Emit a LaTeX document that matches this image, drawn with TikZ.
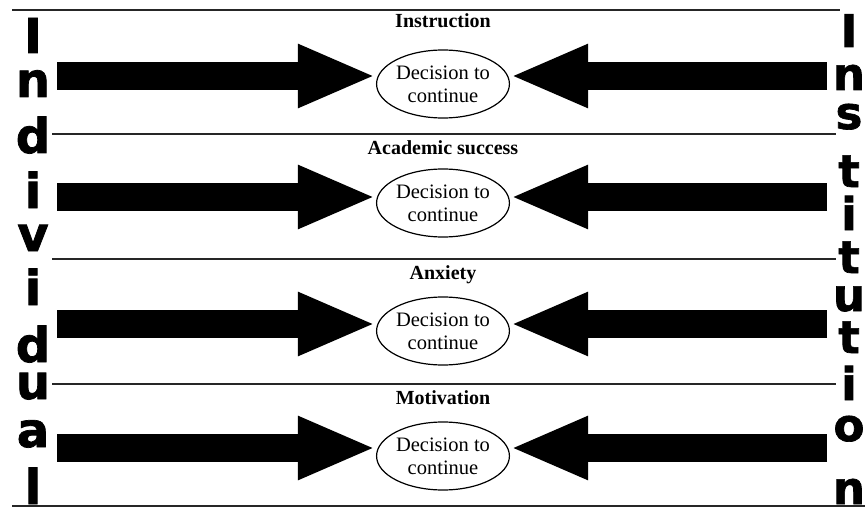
\documentclass[tikz,border=0pt]{standalone}
\usepackage{fontspec}
\setmainfont{Liberation Serif}
\newfontfamily\heavy[FakeBold=1.5]{DejaVu Sans}
\usetikzlibrary{shapes.geometric,arrows.meta,calc}
\begin{document}
\begin{tikzpicture}[x=1pt,y=-1pt,
  decision/.style={draw,ellipse,line width=1.2pt,minimum width=129pt,minimum height=68pt,inner sep=0pt,align=center,font=\fontsize{20.5}{23}\selectfont},
  title/.style={anchor=base,inner sep=0pt,font=\bfseries\fontsize{20}{22}\selectfont},
  bigarrow/.style={line width=28pt,-{Triangle[length=78pt,width=58pt]}},
  rule/.style={line width=1.3pt,draw=black!85},
  letter/.style={anchor=base,inner sep=0pt,font=\heavy\bfseries\fontsize{48}{48}\selectfont},
  rletter/.style={anchor=base,inner sep=0pt,font=\heavy\bfseries\fontsize{45}{45}\selectfont}]
\useasboundingbox (0,0) rectangle (865,508);

% horizontal rules
\coordinate (t0) at (12,10);  \coordinate (t1) at (840,10);
\coordinate (s1a) at (52,134); \coordinate (s1b) at (836,134);
\coordinate (s2a) at (52,259); \coordinate (s2b) at (836,259);
\coordinate (s3a) at (52,384); \coordinate (s3b) at (836,384);
\coordinate (b0) at (12,506); \coordinate (b1) at (865,506);
\draw[rule] (t0) -- (t1);
\draw[rule] (s1a) -- (s1b);
\draw[rule] (s2a) -- (s2b);
\draw[rule] (s3a) -- (s3b);
\draw[rule] (b0) -- (b1);

% titles
\node[title] (h1) at (443,28) {Instruction};
\node[title] (h2) at (443,154) {Academic success};
\node[title] (h3) at (443,279) {Anxiety};
\node[title] (h4) at (443,404) {Motivation};

% decision ellipses
\node[decision] (e1) at (443,84) {Decision to\\continue};
\node[decision] (e2) at (443,203) {Decision to\\continue};
\node[decision] (e3) at (443,331) {Decision to\\continue};
\node[decision] (e4) at (443,456) {Decision to\\continue};

% arrows
\coordinate (l1) at (57,76);  \coordinate (r1) at (827,76);
\coordinate (l2) at (57,197); \coordinate (r2) at (827,197);
\coordinate (l3) at (57,324); \coordinate (r3) at (827,324);
\coordinate (l4) at (57,448); \coordinate (r4) at (827,448);
\draw[bigarrow] (l1) -- ($(e1.west)+(0,-8)$);
\draw[bigarrow] (r1) -- ($(e1.east)+(0,-8)$);
\draw[bigarrow] (l2) -- ($(e2.west)+(0,-6)$);
\draw[bigarrow] (r2) -- ($(e2.east)+(0,-6)$);
\draw[bigarrow] (l3) -- ($(e3.west)+(0,-7)$);
\draw[bigarrow] (r3) -- ($(e3.east)+(0,-7)$);
\draw[bigarrow] (l4) -- ($(e4.west)+(0,-8)$);
\draw[bigarrow] (r4) -- ($(e4.east)+(0,-8)$);

% Individual
\node[letter] (L1) at (33,53) {I};
\node[letter] (L2) at (33,97) {n};
\node[letter] (L3) at (33,153) {d};
\node[letter] (L4) at (33,208) {i};
\node[letter] (L5) at (33,251) {v};
\node[letter] (L6) at (33,305) {i};
\node[letter] (L7) at (33,362) {d};
\node[letter] (L8) at (33,399) {u};
\node[letter] (L9) at (33,447) {a};
\node[letter] (L10) at (33,504) {l};

% Institution
\node[rletter] (R1) at (849,47) {I};
\node[rletter] (R2) at (849,90) {n};
\node[rletter] (R3) at (849,129) {s};
\node[rletter] (R4) at (849,187) {t};
\node[rletter] (R5) at (849,230) {i};
\node[rletter] (R6) at (849,273) {t};
\node[rletter] (R7) at (849,311) {u};
\node[rletter] (R8) at (849,353) {t};
\node[rletter] (R9) at (849,400) {i};
\node[rletter] (R10) at (849,441) {o};
\node[rletter] (R11) at (849,504) {n};
\end{tikzpicture}
\end{document}
